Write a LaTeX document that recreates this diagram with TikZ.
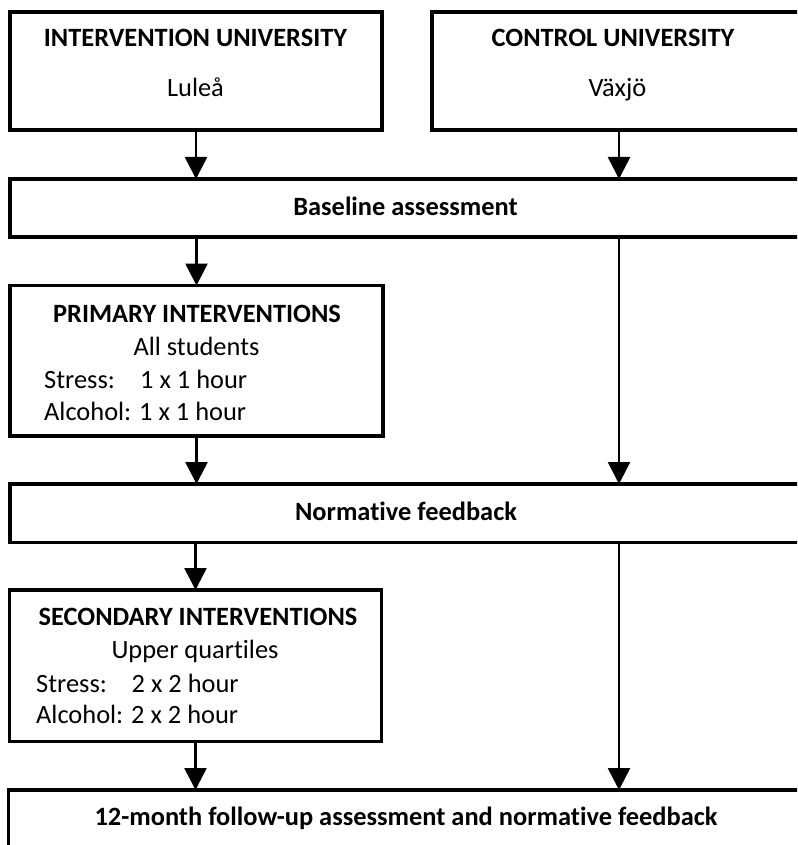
\documentclass[tikz,border=0pt]{standalone}
\usepackage{fontspec}
\setmainfont{Carlito}[Ligatures=NoCommon]
\usetikzlibrary{arrows.meta}
\newcommand{\nolig}{\kern0pt}
\begin{document}
\begin{tikzpicture}[x=1pt,y=-1pt,
  box/.style={draw, line width=3.6pt, inner sep=0pt, outer sep=0pt, rectangle},
  txt/.style={inner sep=0pt, font=\fontsize{26.4}{32}\selectfont},
  btxt/.style={inner sep=0pt, font=\fontsize{26.4}{32}\selectfont\bfseries},
  arr/.style={line width=2.6pt, -{Triangle[width=22pt,length=22pt]}}]
\useasboundingbox (0,0) rectangle (797,845);
\clip (0,0) rectangle (797,845);
% boxes
\node[box, minimum width=372pt, minimum height=118pt] (b1) at (196,71) {};
\node[box, minimum width=374pt, minimum height=118pt] (b2) at (619,71) {};
\node[box, minimum width=792pt, minimum height=58pt] (base) at (406,208) {};
\node[box, minimum width=373pt, minimum height=150.5pt] (prim) at (196.5,360.75) {};
\node[box, minimum width=792pt, minimum height=58.5pt] (norm) at (406,513.25) {};
\node[box, minimum width=372pt, minimum height=151.5pt] (sec) at (195.5,665.75) {};
\node[box, minimum width=793.5pt, minimum height=60pt] (final) at (405.25,820) {};
% arrows
\draw[arr] (b1.south) -- (b1.south |- base.north);
\draw[arr] (b2.south) -- (b2.south |- base.north);
\draw[arr] (base.south -| prim.north) -- (prim.north);
\draw[arr] (base.south -| b2.south) -- (b2.south |- norm.north);
\draw[arr] (prim.south) -- (prim.south |- norm.north);
\draw[arr] (norm.south -| sec.north) -- (sec.north);
\draw[arr] (norm.south -| b2.south) -- (b2.south |- final.north);
\draw[arr] (sec.south) -- (sec.south |- final.north);
% texts
\node[btxt, anchor=base] (t1) at (195.5,47) {INTERVENTION UNIVERSITY};
\node[txt, anchor=base] (t1b) at (195.5,97) {Luleå};
\node[btxt, anchor=base] (t2) at (613,47) {CONTROL UNIVERSITY};
\node[txt, anchor=base] (t2b) at (617.5,97) {Växjö};
\node[btxt, anchor=base] (tbase) at (405.5,215) {Baseline assessment};
\node[btxt, anchor=base] (tprim) at (197,322) {PRIMARY INTERVENTIONS};
\node[txt, anchor=base] (tprim2) at (196.5,355) {All students};
\node[txt, anchor=base west] (tprim3) at (44,388) {\makebox[96pt][l]{Stress:}1 x 1 hour};
\node[txt, anchor=base west] (tprim4) at (44,420.5) {Alcohol: 1 x 1 hour};
\node[btxt, anchor=base] (tnorm) at (406,520) {Normat\nolig ive feedback};
\node[btxt, anchor=base] (tsec) at (198,625) {SECONDARY INTERVENTIONS};
\node[txt, anchor=base] (tsec2) at (195,658) {Upper quart\nolig iles};
\node[txt, anchor=base west] (tsec3) at (36,692) {\makebox[95.5pt][l]{Stress:}2 x 2 hour};
\node[txt, anchor=base west] (tsec4) at (36,723) {Alcohol: 2 x 2 hour};
\node[btxt, anchor=base] (tfin) at (406,825) {12-month follow-up assessment and normat\nolig ive feedback};
\end{tikzpicture}
\end{document}
